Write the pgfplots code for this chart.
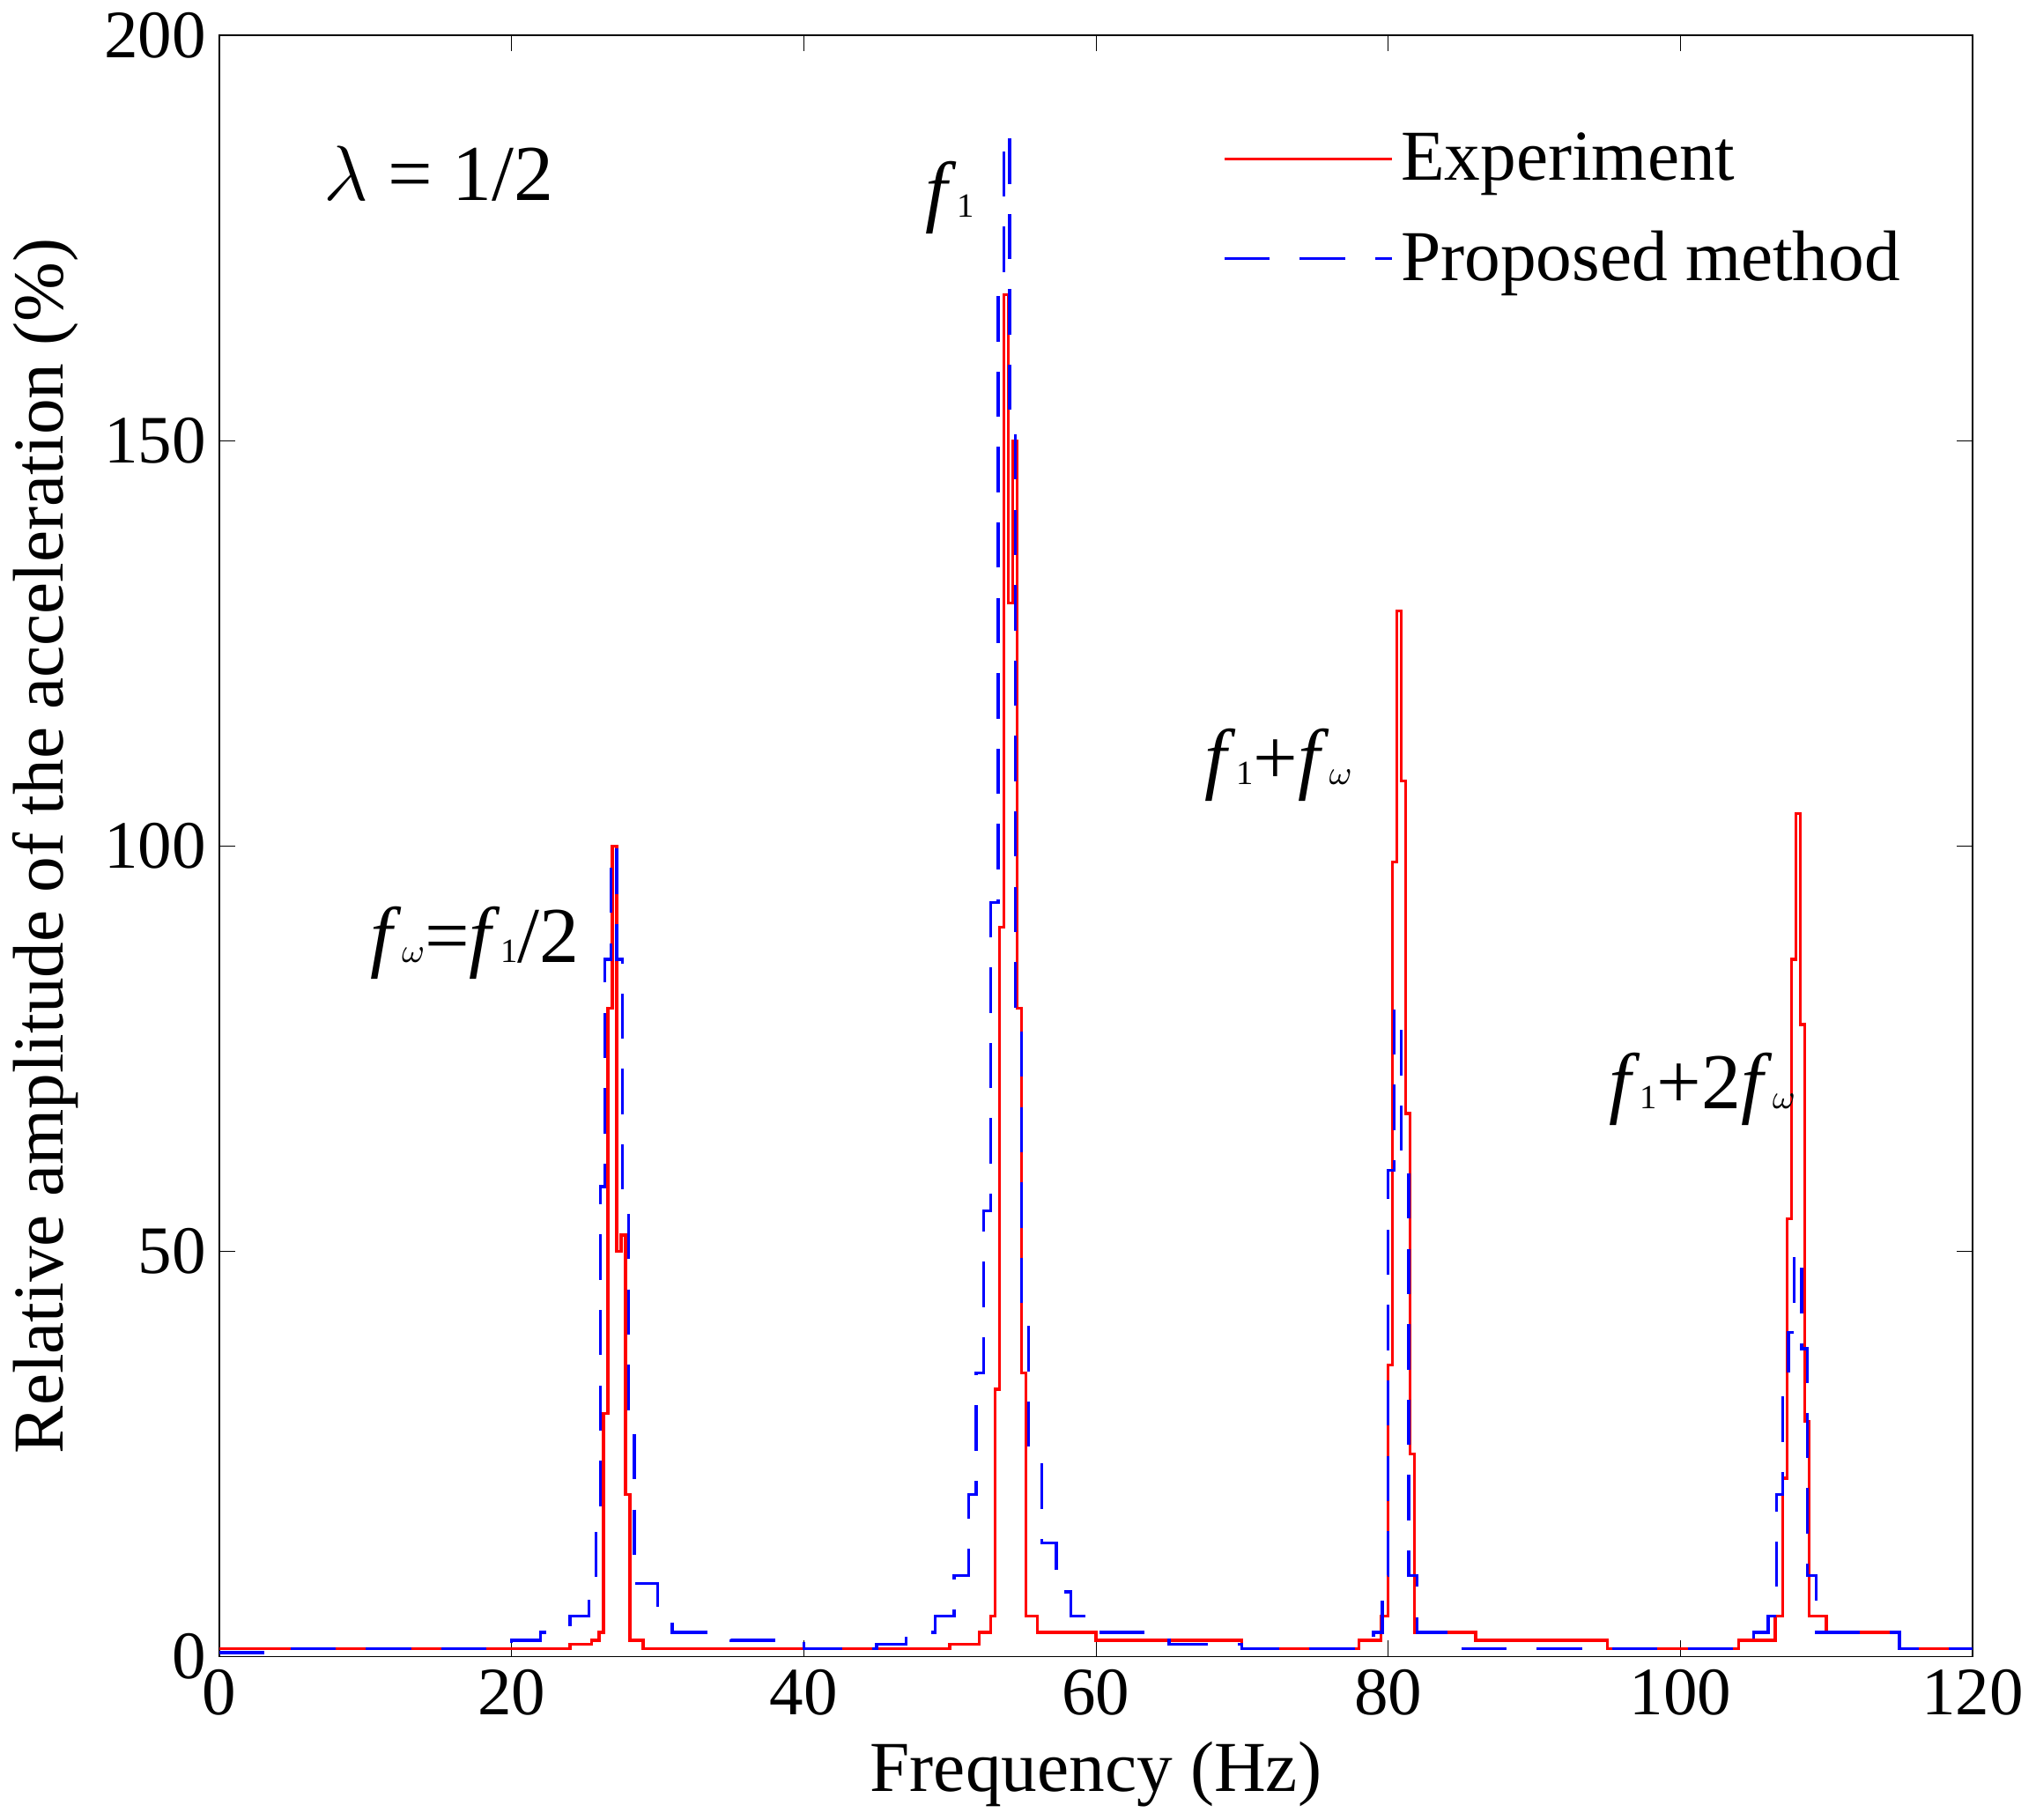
\documentclass[border=0pt]{standalone}
\usepackage{pgfplots}
\pgfplotsset{compat=1.18}
\usepackage{fontspec}
\setmainfont{Liberation Serif}
\begin{document}
\begin{tikzpicture}
\begin{axis}[scale only axis, width=465pt, height=430pt,
xmin=0,xmax=120,ymin=0,ymax=200,
xtick={0,20,...,120}, ytick={0,50,...,200},
tick align=inside, tick style={black},
/pgf/number format/assume math mode=true,
ticklabel style={font=\fontsize{18}{18}\selectfont},
label style={font=\fontsize{19}{19}\selectfont},
xlabel={Frequency (Hz)}, ylabel={Relative amplitude of the acceleration (\%)},
legend style={at={(0.97,0.95)},anchor=north east,draw=none,font=\fontsize{19}{19}\selectfont, row sep=8pt},
legend cell align=left,
legend image post style={xscale=2.6},
]
\addplot[red, thick, const plot] coordinates {
(0,1)(10,1)(20,1)(24,1.5)(25.5,2)(26,3)(26.3,30)(26.6,80)(26.9,100)(27.2,50)(27.5,52)(27.8,20)(28.1,2)(29,1)(40,1)(50,1.5)(52,3)(52.8,5)(53.1,33)(53.4,90)(53.7,168)(54,130)(54.3,150)(54.6,80)(54.9,35)(55.2,5)(56,3)(60,2)(70,1)(78,2)(79.5,5)(80,36)(80.3,98)(80.6,129)(80.9,108)(81.2,67)(81.5,25)(81.8,3)(86,2)(95,1)(104,2)(106.5,5)(107,22)(107.3,54)(107.6,86)(107.9,104)(108.2,78)(108.5,29)(108.8,5)(110,3)(115,1)(120,1)};
\addlegendentry{Experiment}
\addplot[blue, thick, dash pattern=on 12pt off 8pt, const plot] coordinates {
(0,0.5)(5,1)(15,1)(20,2)(22,3)(24,5)(25.3,10)(25.8,18)(26.1,58)(26.4,86)(26.8,100)(27.2,86)(27.6,56)(28,28)(28.4,9)(30,5)(31,3)(35,2)(40,1)(45,1.5)(47,3)(49,5)(50.3,10)(51.3,20)(51.8,35)(52.3,55)(52.8,93)(53.3,168)(53.7,188)(54.1,152)(54.5,78)(54.9,42)(55.4,24)(56.3,14)(57.3,8)(58.3,5)(60,3)(65,1.5)(70,1)(78,2)(79,3)(79.6,10)(80,60)(80.4,80)(80.9,62)(81.4,10)(82,3)(85,1)(100,1)(105,3)(106,5)(106.6,20)(107,35)(107.4,40)(107.8,50)(108.3,38)(108.7,10)(109.3,3)(115,1)(120,1)};
\addlegendentry{Proposed method}
\node[font=\fontsize{21}{21}\selectfont] at (axis cs:15,183) {$\lambda$ = 1/2};
\node[font=\fontsize{21}{21}\selectfont] at (axis cs:50,180) {\textit{f}{\small 1}};
\node[font=\fontsize{21}{21}\selectfont] at (axis cs:17.5,88) {\textit{f}{\small $\omega$}=\textit{f}{\small 1}/2};
\node[font=\fontsize{21}{21}\selectfont] at (axis cs:72.5,110) {\textit{f}{\small 1}+\textit{f}{\small $\omega$}};
\node[font=\fontsize{21}{21}\selectfont] at (axis cs:101.5,70) {\textit{f}{\small 1}+2\textit{f}{\small $\omega$}};
\end{axis}
\end{tikzpicture}
\end{document}
